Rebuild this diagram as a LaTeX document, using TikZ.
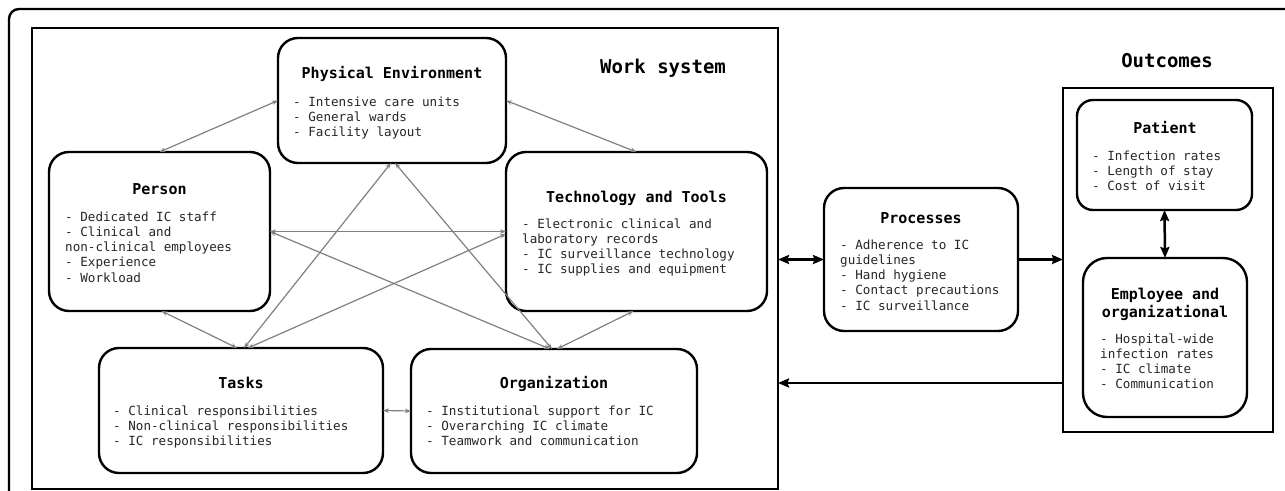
\documentclass[tikz,border=0pt]{standalone}
\usepackage{fontspec}
\setmonofont{DejaVu Sans Mono}
\usetikzlibrary{arrows.meta}

\begin{document}
\begin{tikzpicture}[x=1pt,y=-1pt,
  frame/.style={draw=black, line width=2pt, inner sep=0pt, outer sep=0pt},
  box/.style={draw=black, line width=2.4pt, rounded corners=20pt, inner sep=0pt, outer sep=0pt},
  title/.style={font=\ttfamily\bfseries\fontsize{15}{18}\selectfont, anchor=base, inner sep=0pt},
  items/.style={font=\ttfamily\fontsize{12.6}{15.2}\selectfont, align=left, anchor=north west, inner sep=0pt, text=black!85},
  heading/.style={font=\ttfamily\bfseries\fontsize{19}{22}\selectfont, anchor=base, inner sep=0pt},
  link/.style={draw=black!50, line width=1.2pt, arrows={Stealth[length=6pt,width=4.5pt]-Stealth[length=6pt,width=4.5pt]}},
  flow/.style={draw=black, line width=2.5pt, arrows={-Stealth[length=11pt,width=9pt,inset=1.5pt]}},
  flowboth/.style={draw=black, line width=2.5pt, arrows={Stealth[length=11pt,width=9pt,inset=1.5pt]-Stealth[length=11pt,width=9pt,inset=1.5pt]}}
]
\useasboundingbox (0,0) rectangle (1285,490);
\fill[white] (0,0) rectangle (1285,490);
\clip (0,0) rectangle (1285,490);

% outer frame, running past the right and lower edges
\node[frame, line width=2.4pt, rounded corners=10pt, minimum width=1300, minimum height=500] (outer) at (659,259) {};

% work system and outcomes frames
\node[frame, minimum width=746, minimum height=461] (ws) at (405,258.5) {};
\node[frame, minimum width=210, minimum height=344] (outc) at (1168,260) {};
\node[heading] (wslabel) at (663,73) {Work system};
\node[heading] (outclabel) at (1167,67) {Outcomes};

% work system elements
\node[box, minimum width=228, minimum height=125] (env) at (392,100.5) {};
\node[title] (envt) at (392,78) {Physical Environment};
\node[items] (envi) at (293,96.5) {- Intensive care units\\- General wards\\- Facility layout};

\node[box, minimum width=221, minimum height=159] (person) at (159.5,231.5) {};
\node[title] (persont) at (159.5,194) {Person};
\node[items] (personi) at (65,211.5) {- Dedicated IC staff\\- Clinical and\\non-clinical employees\\- Experience\\- Workload};

\node[box, minimum width=261, minimum height=159] (tech) at (636.5,231.5) {};
\node[title] (techt) at (636.5,202) {Technology and Tools};
\node[items] (techi) at (522,218.5) {- Electronic clinical and\\laboratory records\\- IC surveillance technology\\- IC supplies and equipment};

\node[box, minimum width=284, minimum height=125] (tasks) at (241,410.5) {};
\node[title] (taskst) at (241,388) {Tasks};
\node[items] (tasksi) at (113,405.5) {- Clinical responsibilities\\- Non-clinical responsibilities\\- IC responsibilities};

\node[box, minimum width=286, minimum height=124] (org) at (554,411) {};
\node[title] (orgt) at (554,388) {Organization};
\node[items] (orgi) at (426,405.5) {- Institutional support for IC\\- Overarching IC climate\\- Teamwork and communication};

% processes
\node[box, minimum width=194, minimum height=143] (proc) at (921,259.5) {};
\node[title] (proct) at (921,223) {Processes};
\node[items] (proci) at (840,239.5) {- Adherence to IC\\guidelines\\- Hand hygiene\\- Contact precautions\\- IC surveillance};

% outcomes
\node[box, rounded corners=16pt, minimum width=175, minimum height=110] (pat) at (1164.5,155) {};
\node[title] (patt) at (1165,133) {Patient};
\node[items] (pati) at (1092,150.5) {- Infection rates\\- Length of stay\\- Cost of visit};

\node[box, rounded corners=24pt, minimum width=164, minimum height=159] (emp) at (1165,337.5) {};
\node[title] (empt1) at (1165,299) {Employee and};
\node[title] (empt2) at (1165,317) {organizational};
\node[items] (empi) at (1100,333.5) {- Hospital-wide\\infection rates\\- IC climate\\- Communication};

% interactions inside the work system
\draw[link] (person.north) -- (env.west);
\draw[link] (env.east) -- (tech.north);
\draw[link] ([xshift=2pt]person.south) -- ([xshift=-4pt]tasks.north);
\draw[link] (person.east) -- (tech.west);
\draw[link] ([xshift=3pt]tasks.north) -- ([xshift=-1pt]env.south);
\draw[link] ([xshift=7pt]tasks.north) -- ([yshift=-2.5pt]tech.west);
\draw[link] (person.east) -- ([xshift=-4pt]org.north);
\draw[link] ([xshift=3pt]env.south) -- ([xshift=-2pt]org.north);
\draw[link] ([xshift=-3pt]tech.south) -- ([xshift=3pt]org.north);
\draw[link] (tasks.east) -- (org.west);

% flows between work system, processes and outcomes
\coordinate (back) at (outc.west |- 0,383);
\draw[flowboth] (ws.east |- proc.west) -- (proc.west);
\draw[flow] (proc.east) -- (outc.west |- proc.east);
\draw[flow] (back) -- (ws.east |- back);
\draw[flowboth] (pat.south) -- (emp.north);
\end{tikzpicture}
\end{document}
